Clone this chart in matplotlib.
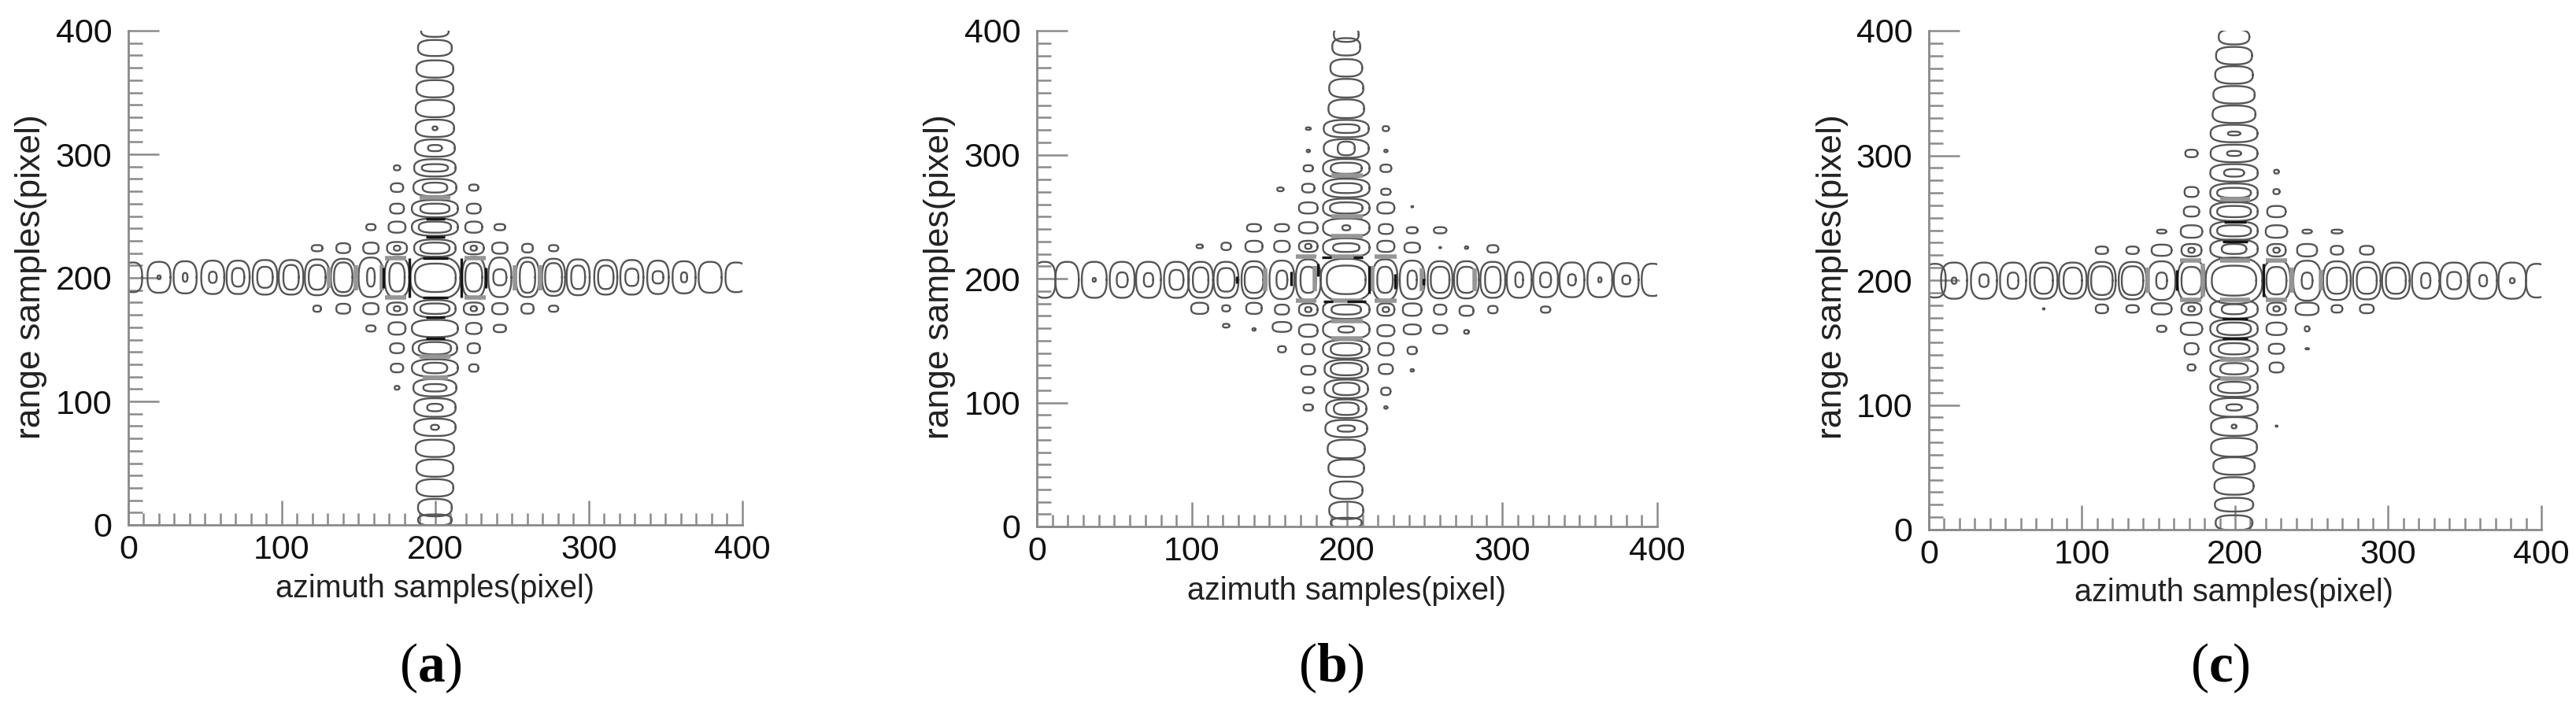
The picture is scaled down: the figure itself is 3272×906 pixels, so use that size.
import numpy as np
import matplotlib
matplotlib.use('Agg')
import matplotlib.pyplot as plt

plt.rcParams['font.family'] = ['Liberation Sans', 'DejaVu Sans']
plt.rcParams['mathtext.fontset'] = 'custom'
plt.rcParams['mathtext.bf'] = 'Liberation Serif:bold'
plt.rcParams['mathtext.rm'] = 'Liberation Serif'

major_ticks = [0, 100, 200, 300, 400]
minor_ticks = [v for v in range(10, 400, 10) if v % 100 != 0]
captions = ['a', 'b', 'c']

# horizontal arm: x, outer w, outer h, inner w, inner h
a_arm_h = [(3,12,24,0,0),(20,15,25,2,3),(37,15,26,3,7),(55,15,27,5,9),(71.5,15,27,8,15),
           (89,16,28,10,17),(106,16,28,10,20),(123,16,29,11,20),(140,16,30,12,24),(158,16,32,5,15),
           (175,16,33,10,23),(225,15,33,11,23),(242,15,32,8.5,13),(260,15,32,10,25),(277,15,30,11,23),
           (293,15,29,9,19),(311,15,28,10,19),(328,15,28,8.5,14),(345,14,27,7,10),(362,15,26,4,8),
           (379,15,25,0,0),(396,14,24,0,0)]
# vertical arm: y, outer w, outer h, inner w, inner h
a_arm_v = [(400,18,10,0,0),(386,22,13,0,0),(369,24,14,0,0),(353,24,14,0,0),(337,25,14,0,0),
           (321,25,14,3,3),(305,26,14,9,5),(289,27,14,17,6),(273,28,14,16,8),(256,30,14,19,8),
           (241,30,14,21,9),(224,27,14,19,9),(175,27,14,19,8.5),(159,30,14,0,0),(143,29,14,21,10),
           (127,30,14,16,8.5),(111,28,14,15,6),(95,27,15,10,6),(79,27,14,5,4),(62,25,14,0,0),
           (46,24,14,0,0),(30,24,14,0,0),(14,22,14,0,0),(4,22,9,0,0)]
# off-arm rings and the main lobe: x, y, w, h
a_side = [(200,200,32.5,34),(200,200,26.5,23),
          (175,289,4,4),(175,273,8,7),(175,256,9,8),(175,241,11,9),(175,224,13,10),(175,224,4,4),
          (175,175,13,10),(175,175,4,4),(175,159,11,10),(175,143,9,8),(175,127,8,7),(175,111,3,3),
          (225,273,6,5),(225,256,9,8),(225,241,11,9),(225,224,13,10),(225,224,4,4),(225,175,13,10),
          (225,175,4,4),(225,159,10,9),(225,143,8,8),(225,127,6,6),
          (158,241,6,5),(158,224,10,9),(158,175,10,9),(158,159,6,5),
          (242,241,7,5),(242,224,10,9),(242,175,10,9),(242,159,8,6),
          (140,224,9,8),(140,175,9,8),(260,224,7,7),(260,175,8,8),
          (123,224,7,5),(123,175,5,5),(277,224,6,5),(277,175,6,5)]
# heavy black edges and wide grey joins: x0, x1, y0, y1
a_dark = [(183,183,184,216),(217,217,184,216),(192,208,216,216),(192,208,184,184),(194,206,168,168),
          (194,206,151,151),(194,206,233,233),(194,206,248,248),(166,166,192,208),(233,233,192,208)]
a_gray = [(190,210,136,136),(192,208,119,119),(190,210,265,265),(167,181,184,184),(167,181,216,216),
          (219,233,184,184),(219,233,216,216),(148,148,190,210),(252,252,190,210),(268,268,190,210),
          (165,165,190,210),(131,131,192,208)]

b_arm_h = [(5,14,29,0,0),(19.5,15,29,0,0),(37,16,29,2,3),(55,16,29,7,12),(72,16,29,6,11),
           (90,16,29,9,16),(105.6,16,29,10,20),(122,16,29,11,19),(140,16,30,12,21),(158,16,31,7,15),
           (175,16,33,10,21),(224.5,16,33,10,21),(242,16,31,6,15),(260,16,30,12,21),(277,16,30,12,21),
           (294,16,29,10,21),(311,16,29,5,12),(328,16,28,7,12),(345,16,28,5,9),(363,16,28,2,4),
           (380,16,27,5,7),(397,14,26,0,0)]
b_arm_v = [(397,16,12,0,0),(387,18,14,0,0),(370,20.5,14,0,0),(353.6,22,15,0,0),(337,23,15,0,0),
           (321,29,14,17,7),(305,29,15,11,11),(289,30,15,20,9),(273,30,15,20,8),(257,30,15,21,9),
           (241,30,15,5,4),(225,30,15,17,7),(175,30,15,19,8),(159,30,15,10,5),(143,30,15,20,10),
           (127,28,15,20,10),(111,28,15,17,10),(95,26,15,16,10),(79,27,14,11,5),(62.5,24,15,0,0),
           (47,23,14,0,0),(29.3,21,14,0,0),(13,22,14,0,0),(3,20,8,0,0)]
b_side = [(199.5,199,33,34),(199.5,199,25,23),
          (175,321,3,2),(175,303,2,2),(175,289,6,5),(175,273,8,7),(175,257,12,9),(175,241,12,9),
          (175,226,12,9),(175,226,4,4),(175,175,12,10),(175,175,4,4),(175,158,12,10),(175,143,8,8),
          (175,126,9,7),(175,110,7,5),(175,96,6,5),
          (225,321,4,4),(225,303,2,2),(225,289,7,6),(225,270,6,5),(225,257,11,9),(225,240,9,8),
          (225,226,11,9),(225,175,11,10),(225,175,4,4),(225,158,11,9),(225,143,10,10),(225,127,9,8),
          (225,109,6,6),(225,96,2,2),
          (157,272,4,3),(158,241,9,6),(158,226,10,9),(158,175,9,8),(158,161,12,8),(158,143,5,5),
          (242,258,1,1),(242,239,7,5),(242,225,10,8),(242,175,12,10),(242,159,11,8),(242,142,6,6),(242,126,2,2),
          (140,241,9,6),(140,226,11,9),(140,176,10,9),(140,159,2,2),
          (260,239,8,5),(260,225,1,1),(260,175,8,8),(260,159,9,7),
          (122,226,6,6),(122,176,5,5),(122,162,4,3),(105,226,4,3),(105,176,11,9),
          (277,225,2,2),(277,174,9,8),(277,157,3,3),(294,224,7,6),(294,175,6,6),(328,175,6,5)]
b_dark = [(184,190,217,217),(204,210,217,217),(200,212,181.5,181.5),(185,191,181.5,181.5),
          (181,181,202,212),(214,214,188,210),(164,164,194,206),(231,231,192,204),(129,129,196,202),(249,249,195,200)]
b_gray = [(190,210,250,250),(190,210,234,234),(190,210,218,218),(190,210,182,182),(190,210,166,166),
          (190,210,152,152),(190,210,283,283),(167,180,218,218),(167,180,182,182),(218,232,218,218),
          (218,232,182,182),(147,147,190,208),(248,248,190,208),(282,282,190,208),(179,179,190,210),(216,216,190,210)]

c_arm_h = [(4,14,27,0,0),(16.5,17,29,3,5),(36,17,29,6,10),(55,17,29,7,13),(75,18,29,12,21),
           (94,18,29,12,21),(113,18,30,14,23),(133,18,30,14,23),(152,18,31,7,13),(171.5,18,33,13,22),
           (227,18,33,13,22),(247,18,32,7,13),(266.5,18,31,13,21),(286,18,30,13,21),(305,18,29,13,21),
           (324.5,18,29,6,12),(343,18,29,9,14),(362,18,29,5,9),(381,18,29,3,4),(397,14,27,0,0)]
c_arm_v = [(395,20,12,0,0),(380,23.5,14,0,0),(364.5,24.6,14,0,0),(348.6,27,14,0,0),(333,28,14,0,0),
           (317.6,30.6,14,8,3),(301.6,30.6,14,9,4),(286,31,14,13,6),(270,31,15,22,8),(255,31,15,22,9),
           (239.6,31,15,22,9),(225,31,15,16,8),(176.7,31,15,16,8),(161,31,15,22,10),(145,31,15,20,9),
           (129,31,15,18,9),(114,31,15,21,9),(98,31,15,10,5),(82.7,30,15,3,3),(66,30,15,0,0),
           (51,27,14,0,0),(35,25.6,14,0,0),(20,25,11,0,0),(5.5,24,12,0,0)]
c_side = [(199.3,199.6,37,37),(199.3,199.6,29,24),
          (171.5,301.6,8,6),(171.5,270.7,9,8),(171.5,255,10,8),(171.5,239,14,10),(171.5,224,13,10),
          (171.5,224,4,4),(171.5,177,13,10),(171.5,177,4,4),(171.5,161,14,10),(171.5,145,9,9),(171.5,130,5,5),
          (227,287,3,3),(227,271,4,4),(227,255,12,9),(227,239,14,10),(227,224,12,10),(227,224,4,4),
          (227,177,12,10),(227,177,4,4),(227,161,13,10),(227,145,10,8),(227,130,9,8),(227,83,1,1),
          (152,239,6,3),(152,224,13,9),(152,177,13,9),(152,161,6,5),
          (247,239,6,3),(247,224,13,10),(247,177,15,10),(247,161,3,4),(247,145,2,1),
          (133,224,8,6),(133,177,8,6),(266.5,239,7,3),(266.5,224,8,7),(266.5,177,7,6),
          (113,224,8,6),(113,177,8,7),(286,224,9,7),(286,177,9,7),(75,177,1,1)]
c_dark = [(192,208,169,169),(192,208,153,153),(192,208,231,231),(193,207,247,247),
          (218.6,218.6,187,213),(162,162,192,208)]
c_gray = [(190,210,265,265),(190,210,136,136),(190,210,121,121),(190,210,184,184),(190,210,216,216),
          (179,179,187,213),(164,178,216,216),(164,178,184,184),(220,234,216,216),(220,234,184,184),
          (143,143,190,210),(237,237,190,210),(256,256,192,208)]

W, H = 3273, 906
panels = [
    (a_arm_h, a_arm_v, a_side, a_dark, a_gray, 200.4, 199.7),
    (b_arm_h, b_arm_v, b_side, b_dark, b_gray, 199.0, 199.5),
    (c_arm_h, c_arm_v, c_side, c_dark, c_gray, 199.6, 199.3),
]
# left, right, top, bottom in pixels
boxes = [(163, 943, 39, 667), (1317, 2105, 39, 669), (2450, 3228, 39, 673)]
ylabel_x = [40, 1194, 2328]
xlabel_x = [553, 1711, 2838]
caption_x = [547, 1691, 2820]

LINE = '#555555'
AXC = '#8a8a8a'


def ring(ax, x, y, w, h):
    # rounded lobe outline, clipped at the axes like the source contours
    t = np.linspace(0, 2 * np.pi, 80)
    n = 2.7
    px = x + w / 2 * np.sign(np.cos(t)) * np.abs(np.cos(t)) ** (2 / n)
    py = y + h / 2 * np.sign(np.sin(t)) * np.abs(np.sin(t)) ** (2 / n)
    ax.plot(px, py, color=LINE, lw=1.7)


fig = plt.figure(figsize=(W / 100, H / 100), dpi=100)

for i, (arm_h, arm_v, side, dark, gray, y0, x0) in enumerate(panels):
    l, r, t, b = boxes[i]
    ax = fig.add_axes([l / W, 1 - b / H, (r - l) / W, (b - t) / H])
    for x, w, h, iw, ih in arm_h:
        ring(ax, x, y0, w, h)
        if iw:
            ring(ax, x, y0, iw, ih)
    for y, w, h, iw, ih in arm_v:
        ring(ax, x0, y, w, h)
        if iw:
            ring(ax, x0, y, iw, ih)
    for x, y, w, h in side:
        ring(ax, x, y, w, h)
    for x1, x2, y1, y2 in gray:
        ax.plot([x1, x2], [y1, y2], color='#969696', lw=4, solid_capstyle='butt')
    for x1, x2, y1, y2 in dark:
        ax.plot([x1, x2], [y1, y2], color='#151515', lw=2.4, solid_capstyle='butt')

    ax.set_xlim(0, 400)
    ax.set_ylim(0, 400)
    ax.spines['top'].set_visible(False)
    ax.spines['right'].set_visible(False)
    for s in ['left', 'bottom']:
        ax.spines[s].set_color(AXC)
        ax.spines[s].set_linewidth(2)
    ax.set_xticks(major_ticks)
    ax.set_yticks(major_ticks)
    ax.set_xticks(minor_ticks, minor=True)
    ax.set_yticks(minor_ticks, minor=True)
    ax.tick_params(axis='x', which='major', direction='in', length=22, width=1.8, color=AXC,
                   labelsize=31, pad=9, labelcolor='#111111')
    ax.tick_params(axis='x', which='minor', direction='in', length=11, width=1.8, color=AXC)
    ax.tick_params(axis='y', which='major', direction='in', length=28, width=1.8, color=AXC,
                   labelsize=31, pad=15, labelcolor='#111111')
    ax.tick_params(axis='y', which='minor', direction='in', length=13, width=1.8, color=AXC)

    fig.text(xlabel_x[i] / W, 1 - (748 + i * 2.5) / H, 'azimuth samples(pixel)', fontsize=28.5,
             ha='center', va='center', color='#222222')
    fig.text(ylabel_x[i] / W, 1 - 352 / H, 'range samples(pixel)', fontsize=32, rotation=90,
             ha='center', va='center', color='#222222')
    fig.text(caption_x[i] / W, 1 - 849 / H, '(' + r'$\mathbf{' + captions[i] + '}$' + ')', fontsize=50,
             family='Liberation Serif', ha='center', va='center', color='black')

fig.savefig('out.png', dpi=100)
